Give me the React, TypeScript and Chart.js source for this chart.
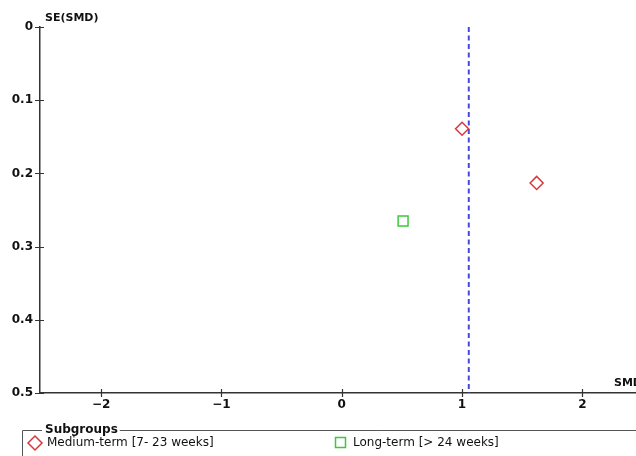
import React, { useEffect, useRef } from "react";
import { Chart, registerables } from "chart.js";

Chart.register(...registerables);

// ---- data ----
const subgroupLabels = ["Medium-term [7- 23 weeks]", "Long-term [> 24 weeks]"];
const mediumSMD = [1.0, 1.62];
const mediumSE = [0.139, 0.213];
const longSMD = [0.51];
const longSE = [0.265];
const pooledSMD = 1.056;
const seRange = [0, 0.5];
const xTickValues = [-2, -1, 0, 1, 2];
const yTickValues = [0, 0.1, 0.2, 0.3, 0.4, 0.5];
const xTitle = "SMD";
const yTitle = "SE(SMD)";
const legendTitle = "Subgroups";

const RED = "#d8383a";
const GREEN = "#3cc83c";
const BLUE = "#4848e0";
const AXIS = "#333333";
const TEXT = "#111111";
const FONT = "'DejaVu Sans', Verdana, sans-serif";

const decorPlugin = {
  id: "decor",
  afterDraw(chart: any) {
    const ctx = chart.ctx;
    const xs = chart.scales.x;
    const ys = chart.scales.y;
    const area = chart.chartArea;
    ctx.save();
    // crossing tick marks
    ctx.strokeStyle = AXIS;
    ctx.lineWidth = 1.2;
    ctx.beginPath();
    xTickValues.forEach((v) => {
      const px = Math.round(xs.getPixelForValue(v)) + 0.5;
      ctx.moveTo(px, area.bottom - 4);
      ctx.lineTo(px, area.bottom + 4);
    });
    yTickValues.forEach((v) => {
      const py = Math.round(ys.getPixelForValue(v)) + 0.5;
      ctx.moveTo(area.left - 5, py);
      ctx.lineTo(area.left + 4, py);
    });
    ctx.stroke();

    // axis titles
    ctx.fillStyle = TEXT;
    ctx.font = `bold 11px ${FONT}`;
    ctx.textBaseline = "middle";
    ctx.textAlign = "left";
    ctx.fillText(yTitle, area.left + 5, 18);
    ctx.fillText(xTitle, 614, area.bottom - 10);

    // legend box
    const top = 430.5;
    ctx.strokeStyle = "#555555";
    ctx.lineWidth = 1;
    ctx.font = `bold 12px ${FONT}`;
    const tw = ctx.measureText(legendTitle).width;
    ctx.beginPath();
    ctx.moveTo(22.5, 460);
    ctx.lineTo(22.5, top);
    ctx.lineTo(42, top);
    ctx.moveTo(47 + tw, top);
    ctx.lineTo(chart.width, top);
    ctx.stroke();
    ctx.fillText(legendTitle, 45, top - 1);

    // legend entries
    ctx.font = `12px ${FONT}`;
    const ly = 443;
    // diamond
    ctx.strokeStyle = RED;
    ctx.lineWidth = 1.5;
    ctx.beginPath();
    ctx.moveTo(28, ly);
    ctx.lineTo(35, ly - 7);
    ctx.lineTo(42, ly);
    ctx.lineTo(35, ly + 7);
    ctx.closePath();
    ctx.stroke();
    ctx.fillText(subgroupLabels[0], 47, ly);
    // square
    ctx.strokeStyle = GREEN;
    ctx.beginPath();
    ctx.rect(335.5, ly - 5.5, 10, 10);
    ctx.stroke();
    ctx.fillText(subgroupLabels[1], 353, ly);
    ctx.restore();
  },
};

export default function App() {
  const ref = useRef<HTMLCanvasElement | null>(null);
  useEffect(() => {
    if (!ref.current) return;
    const fmtX = (v: any) => {
      const n = Number(v);
      return n < 0 ? "\u2212" + Math.abs(n) : String(n);
    };
    const chart = new Chart(ref.current, {
      type: "scatter",
      data: {
        datasets: [
          {
            label: subgroupLabels[0],
            data: mediumSMD.map((x, i) => ({ x, y: mediumSE[i] })),
            pointStyle: "rectRot",
            pointRadius: 6.5,
            borderColor: RED,
            backgroundColor: "rgba(0,0,0,0)",
            borderWidth: 1.5,
          },
          {
            label: subgroupLabels[1],
            data: longSMD.map((x, i) => ({ x, y: longSE[i] })),
            pointStyle: "rect",
            pointRadius: 7,
            borderColor: GREEN,
            backgroundColor: "rgba(0,0,0,0)",
            borderWidth: 1.5,
          },
          {
            type: "line",
            label: "pooled",
            data: seRange.map((y) => ({ x: pooledSMD, y })),
            borderColor: BLUE,
            borderWidth: 2,
            borderDash: [5, 3.5],
            pointRadius: 0,
            showLine: true,
          } as any,
        ],
      },
      options: {
        responsive: false,
        animation: false,
        layout: { autoPadding: false, padding: { top: 27, right: 0, left: 0, bottom: 0 } },
        plugins: { legend: { display: false }, tooltip: { enabled: false } },
        scales: {
          x: {
            type: "linear",
            min: -2.508,
            max: 2.446,
            grid: { display: false, drawTicks: false },
            border: { display: true, color: AXIS, width: 1.5 },
            ticks: {
              stepSize: 1,
              includeBounds: false,
              padding: 5,
              color: TEXT,
              font: { family: FONT, size: 12, weight: "bold" },
              callback: fmtX,
            },
            afterFit: (s: any) => {
              s.height = 63;
              s.paddingLeft = 0;
              s.paddingRight = 0;
            },
          },
          y: {
            type: "linear",
            reverse: true,
            min: seRange[0],
            max: seRange[1],
            grid: { display: false, drawTicks: false },
            border: { display: true, color: AXIS, width: 1.5 },
            ticks: {
              stepSize: 0.1,
              includeBounds: false,
              padding: 7,
              color: TEXT,
              font: { family: FONT, size: 12, weight: "bold" },
              callback: (v: any) => String(Math.round(Number(v) * 10) / 10),
            },
            afterFit: (s: any) => {
              s.width = 40;
              s.paddingTop = 0;
              s.paddingBottom = 0;
            },
          },
        },
      },
      plugins: [decorPlugin],
    });
    return () => chart.destroy();
  }, []);
  return (
    <div style={{ position: "fixed", left: 0, top: 0, width: 636, height: 456, background: "#fff" }}>
      <canvas ref={ref} width={636} height={456} style={{ display: "block" }} />
    </div>
  );
}
